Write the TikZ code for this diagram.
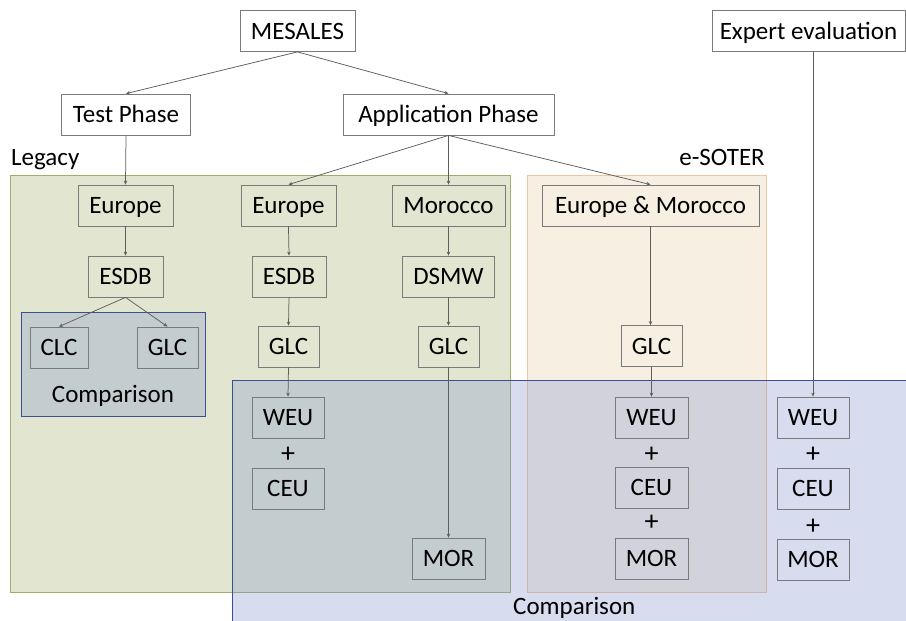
\documentclass[tikz,border=0pt]{standalone}
\usepackage{fontspec}
\setmainfont{Carlito}
\usetikzlibrary{arrows.meta}
\definecolor{boxgray}{HTML}{7A7A7A}
\definecolor{arrowgray}{HTML}{5E5E5E}
\definecolor{legfill}{HTML}{E2E6D0}
\definecolor{legdraw}{HTML}{9CAF6C}
\definecolor{esofill}{HTML}{F8EFE3}
\definecolor{esodraw}{HTML}{EEC6A0}
\definecolor{cmpfill}{RGB}{125,145,205}
\definecolor{cmpdraw}{HTML}{3E4E94}
\begin{document}
\begin{tikzpicture}[x=1pt,y=-1pt,
  box/.style={draw=boxgray, line width=0.8pt, inner sep=0pt, text height=16pt, text depth=0pt, font=\fontsize{25}{29}\selectfont},
  lbl/.style={inner sep=0pt, font=\fontsize{25}{29}\selectfont},
  plus/.style={inner sep=0pt, font=\fontsize{28}{30}\selectfont},
  arr/.style={draw=arrowgray, line width=0.75pt, -{Stealth[length=4pt,width=3.5pt]}},
  region/.style={line width=1pt},
  cmp/.style={region, draw=cmpdraw, fill=cmpfill, fill opacity=0.3}]
\clip (0,0) rectangle (906,621);
\fill[white] (0,0) rectangle (906,621);
% regions
\draw[region, draw=legdraw, fill=legfill] (10,175) rectangle (510,592);
\draw[region, draw=esodraw, fill=esofill] (527,175) rectangle (766,592);
\draw[cmp] (232,380) rectangle (920,640);
\draw[cmp] (21,312) rectangle (205,416);
% region labels
\node[lbl, anchor=base west] (legacy) at (11,165) {Legacy};
\node[lbl, anchor=base east] (esoter) at (765,165) {e-SOTER};
\node[lbl, anchor=base west] (cmpbig) at (513,614) {Comparison};
\node[lbl, anchor=base] (cmpsmall) at (113,402) {Comparison};
% top nodes
\node[box, fill=white, minimum width=115, minimum height=41] (mesales) at (297.5,31) {MESALES};
\node[box, fill=white, minimum width=129, minimum height=41] (test) at (126,114.5) {Test Phase};
\node[box, fill=white, minimum width=211, minimum height=41] (app) at (448.5,114.5) {Application Phase};
\node[box, fill=white, minimum width=193, minimum height=41] (expert) at (808.5,31) {Expert evaluation};
% test phase column
\node[box, minimum width=95, minimum height=41] (eu1) at (125.5,205.5) {Europe};
\node[box, minimum width=75, minimum height=41] (esdb1) at (125.5,276.5) {ESDB};
\node[box, minimum width=58, minimum height=41] (clc) at (59,347.5) {CLC};
\node[box, minimum width=61, minimum height=41] (glc0) at (167.5,347.5) {GLC};
% application Europe column
\node[box, minimum width=95, minimum height=41] (eu2) at (288.5,205.5) {Europe};
\node[box, minimum width=74, minimum height=41] (esdb2) at (289,276.5) {ESDB};
\node[box, minimum width=61, minimum height=41] (glc2) at (288.5,346.5) {GLC};
\node[box, minimum width=72, minimum height=41] (weu2) at (288,417.5) {WEU};
\node[plus] (plus2) at (288,455) {+};
\node[box, minimum width=72, minimum height=41] (ceu2) at (288,488.5) {CEU};
% Morocco column
\node[box, minimum width=113, minimum height=41] (mor) at (448.5,205.5) {Morocco};
\node[box, minimum width=92, minimum height=41] (dsmw) at (448.5,276.5) {DSMW};
\node[box, minimum width=61, minimum height=41] (glcm) at (448.5,346.5) {GLC};
\node[box, minimum width=73, minimum height=41] (morm) at (448.5,558.5) {MOR};
% e-SOTER column
\node[box, minimum width=217, minimum height=41] (eum) at (650.5,205.5) {Europe \& Morocco};
\node[box, minimum width=61, minimum height=41] (glce) at (651.5,346) {GLC};
\node[box, minimum width=73, minimum height=41] (weue) at (651.5,417.5) {WEU};
\node[plus] (pluse1) at (651.5,455) {+};
\node[box, minimum width=73, minimum height=41] (ceue) at (651.5,487.5) {CEU};
\node[plus] (pluse2) at (651.5,523) {+};
\node[box, minimum width=73, minimum height=41] (more) at (651.5,558.5) {MOR};
% expert column
\node[box, minimum width=72, minimum height=41] (weux) at (813,417.5) {WEU};
\node[plus] (plusx1) at (813,455) {+};
\node[box, minimum width=72, minimum height=41] (ceux) at (813,488.5) {CEU};
\node[plus] (plusx2) at (813,527) {+};
\node[box, minimum width=72, minimum height=41] (morx) at (813,559.5) {MOR};
% connectors
\draw[arr] (mesales.south) -- (test.north);
\draw[arr] (mesales.south) -- (app.north);
\draw[arr] (test.south) -- (eu1.north);
\draw[arr] (eu1.south) -- (esdb1.north);
\draw[arr] (esdb1.south) -- (clc.north);
\draw[arr] (esdb1.south) -- (glc0.north);
\draw[arr] (app.south) -- (eu2.north);
\draw[arr] (app.south) -- (mor.north);
\draw[arr] (app.south) -- (eum.north);
\draw[arr] (eu2.south) -- (esdb2.north);
\draw[arr] (esdb2.south) -- (glc2.north);
\draw[arr] (glc2.south) -- (weu2.north);
\draw[arr] (mor.south) -- (dsmw.north);
\draw[arr] (dsmw.south) -- (glcm.north);
\draw[arr] (glcm.south) -- (morm.north);
\draw[arr] (eum.south) -- (eum.south |- glce.north);
\draw[arr] (glce.south) -- (weue.north);
\draw[arr] (weux.north |- expert.south) -- (weux.north);
\end{tikzpicture}
\end{document}
